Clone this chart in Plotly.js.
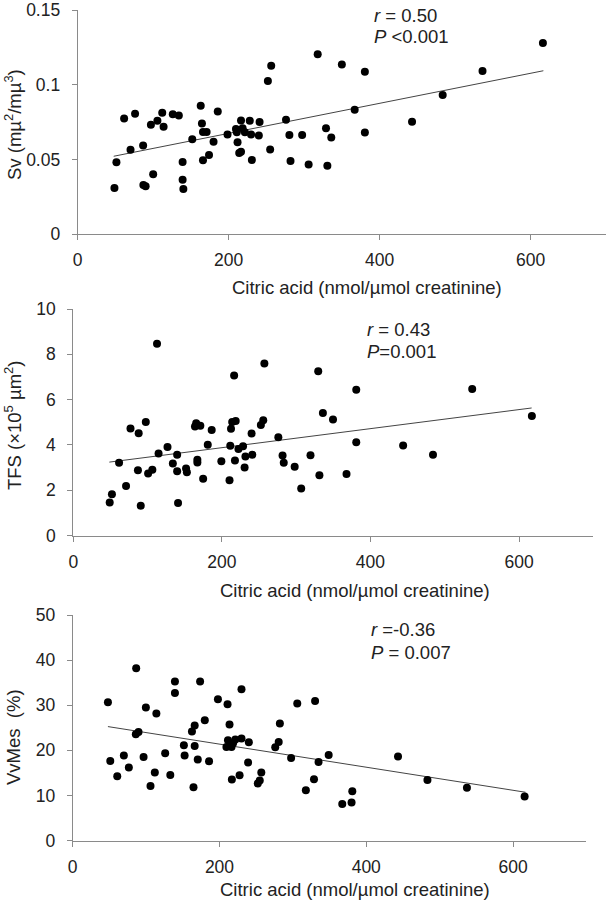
<!DOCTYPE html>
<html>
<head>
<meta charset="utf-8">
<script src="https://cdn.plot.ly/plotly-3.0.1.min.js"></script>
<style>html,body{margin:0;padding:0;background:#fff;}#chart{width:607px;height:900px;}</style>
</head>
<body>
<div id="chart"></div>
<script>
// ---- Data ----
var svX = [48.7, 51.3, 61.5, 70, 76, 86.7, 87, 90, 97, 100, 105.6, 112, 113.8, 126, 134, 139, 139, 140, 151.8, 163, 164.6, 166, 166, 170.8, 174, 180, 185.6, 198.5, 209.7, 210.8, 211.8, 214, 216.4, 216.4, 218.5, 221.5, 228, 229.7, 230.8, 240, 241, 252, 255, 256.4, 276, 280.5, 282, 297.4, 306, 318, 329, 330.8, 336, 350, 367, 380.5, 380.5, 443, 483.6, 536.4, 616.4];
var svY = [0.0309, 0.0481, 0.0774, 0.0565, 0.0805, 0.0593, 0.0329, 0.032, 0.0732, 0.0401, 0.0759, 0.0812, 0.0719, 0.0803, 0.0794, 0.0483, 0.0364, 0.0302, 0.0635, 0.086, 0.0741, 0.0684, 0.0494, 0.0684, 0.053, 0.0618, 0.0821, 0.0666, 0.0704, 0.0682, 0.0615, 0.0543, 0.0551, 0.0761, 0.0708, 0.0682, 0.0759, 0.0666, 0.0496, 0.066, 0.075, 0.1026, 0.0567, 0.1127, 0.0765, 0.0664, 0.049, 0.0664, 0.0465, 0.1204, 0.0708, 0.0457, 0.0646, 0.1136, 0.0832, 0.1088, 0.068, 0.0752, 0.0931, 0.1092, 0.128];
var svTrendX = [47.7, 617];
var svTrendY = [0.0521, 0.1094];

var tfsX = [49, 52, 61.6, 71, 77, 87, 88, 90.8, 97.6, 100.7, 106.4, 112.7, 114.8, 126.8, 134, 139.8, 139.8, 141, 151.8, 152.9, 163.8, 165.4, 167, 167, 171, 174.8, 181, 186.3, 199.3, 210.3, 211.3, 212.3, 213.9, 216.5, 217.6, 218.6, 222.3, 228.5, 230.6, 231.7, 240, 241, 252.5, 255.7, 257.2, 276, 281.7, 283.3, 298, 306.8, 319.3, 329.7, 331.3, 336, 349.6, 367.8, 380.9, 380.9, 444, 484.2, 537, 617.3];
var tfsY = [1.46, 1.82, 3.21, 2.18, 4.72, 2.88, 4.51, 1.31, 5.01, 2.74, 2.9, 8.47, 3.62, 3.91, 3.18, 3.56, 2.84, 1.44, 2.96, 2.79, 4.81, 4.96, 3.34, 3.22, 4.85, 2.51, 4.01, 4.66, 3.28, 2.44, 3.96, 4.71, 5.01, 7.06, 3.31, 5.06, 3.82, 3.94, 3.0, 3.49, 4.5, 3.56, 4.88, 5.09, 7.59, 4.34, 3.53, 3.21, 3.03, 2.07, 3.54, 7.25, 2.66, 5.41, 5.12, 2.72, 6.43, 4.12, 3.97, 3.57, 6.47, 5.28];
var tfsTrendX = [48.5, 617];
var tfsTrendY = [3.24, 5.63];

var vvX = [48, 51.2, 60.7, 69.7, 76.5, 86.5, 86, 89.7, 96.6, 99.7, 106, 111.9, 114, 126, 133, 139.3, 139.3, 151.5, 152.5, 162.5, 164.6, 166.2, 166.2, 170.4, 173.6, 180, 185.8, 197.9, 209.5, 211, 211.6, 213.7, 216.4, 216.9, 218.5, 221.6, 227.4, 230, 230, 239, 240, 252.2, 254.9, 257, 276, 280.7, 282.3, 297.6, 306, 317.7, 328.8, 330.3, 335, 348.8, 367.3, 380, 381, 443.3, 483.4, 537.2, 615.8];
var vvY = [30.65, 17.65, 14.25, 18.83, 16.17, 38.18, 23.56, 24.08, 18.54, 29.47, 12.11, 15.07, 28.14, 19.35, 14.55, 35.23, 32.72, 21.12, 18.83, 24.15, 11.82, 25.48, 20.97, 17.95, 35.23, 26.66, 17.58, 31.31, 20.75, 30.21, 22.23, 25.7, 20.75, 13.52, 21.57, 22.38, 14.48, 33.53, 22.6, 17.28, 21.79, 12.63, 13.29, 15.07, 20.68, 21.86, 25.92, 18.32, 30.35, 11.15, 13.59, 30.95, 17.43, 18.98, 8.12, 8.42, 10.93, 18.61, 13.44, 11.67, 9.75];
var vvTrendX = [48, 617];
var vvTrendY = [25.26, 10.7];

var xTickVals = [0, 200, 400, 600];
var xTickText = ["0", "200", "400", "600"];
var svTickVals = [0, 0.05, 0.1, 0.15];
var svTickText = ["0", "0.05", "0.1", "0.15"];
var tfsTickVals = [0, 2, 4, 6, 8, 10];
var tfsTickText = ["0", "2", "4", "6", "8", "10"];
var vvTickVals = [0, 10, 20, 30, 40, 50];
var vvTickText = ["0", "10", "20", "30", "40", "50"];

var xTitle = "Citric acid (nmol/µmol creatinine)";
var svTitle = "Sv (mµ<sup>2</sup>/mµ<sup>3</sup>)";
var tfsTitle = "TFS (×10<sup>5</sup> µm<sup>2</sup>)";
var vvTitle = "VvMes\u00a0\u00a0(%)";
var svStats = ["<i>r</i> = 0.50", "<i>P</i> <0.001"];
var tfsStats = ["<i>r</i> = 0.43", "<i>P</i>=0.001"];
var vvStats = ["<i>r</i> =-0.36", "<i>P</i> = 0.007"];

// ---- Styling ----
var W = 607, H = 900;
var FONT = "Liberation Sans, Arial, Helvetica, sans-serif";
var TXT = "#222222";
var AX = "#8a8a8a";
var FS = 18.5;
var TICKFS = 17.5;

function px(x) { return x / W; }
function py(y) { return 1 - y / H; }

function scatter(x, y, xa, ya) {
  return { x: x, y: y, xaxis: xa, yaxis: ya, type: "scatter", mode: "markers",
           marker: { color: "#000000", size: 8, line: { width: 0 } }, hoverinfo: "skip" };
}
function trend(x, y, xa, ya) {
  return { x: x, y: y, xaxis: xa, yaxis: ya, type: "scatter", mode: "lines",
           line: { color: "#444444", width: 1 }, hoverinfo: "skip" };
}

function xAxis(l, r, anchor) {
  return { domain: [px(l), px(r)], anchor: anchor, range: [0, 700],
           tickmode: "array", tickvals: xTickVals, ticktext: xTickText,
           ticks: "outside", ticklen: 5, tickwidth: 1, tickcolor: AX,
           showline: true, linecolor: AX, linewidth: 1,
           showgrid: false, zeroline: false, ticklabelstandoff: 5,
           ticklabeloverflow: "allow",
           tickfont: { family: FONT, size: TICKFS, color: TXT } };
}
function yAxis(top, bottom, anchor, rng, vals, text) {
  return { domain: [py(bottom), py(top)], anchor: anchor, range: rng,
           tickmode: "array", tickvals: vals, ticktext: text,
           ticks: "outside", ticklen: 5, tickwidth: 1, tickcolor: AX,
           showline: true, linecolor: AX, linewidth: 1,
           showgrid: false, zeroline: false, ticklabelstandoff: 8,
           ticklabeloverflow: "allow",
           tickfont: { family: FONT, size: TICKFS, color: TXT } };
}

function ann(text, x, y, xanchor, angle) {
  return { text: text, xref: "paper", yref: "paper", x: px(x), y: py(y),
           xanchor: xanchor, yanchor: "middle", showarrow: false,
           textangle: angle || 0, font: { family: FONT, size: FS, color: TXT } };
}

var data = [
  trend(svTrendX, svTrendY, "x", "y"),
  scatter(svX, svY, "x", "y"),
  trend(tfsTrendX, tfsTrendY, "x2", "y2"),
  scatter(tfsX, tfsY, "x2", "y2"),
  trend(vvTrendX, vvTrendY, "x3", "y3"),
  scatter(vvX, vvY, "x3", "y3")
];

var layout = {
  width: W, height: H,
  margin: { l: 0, r: 0, t: 0, b: 0, pad: 0 },
  paper_bgcolor: "#ffffff", plot_bgcolor: "#ffffff",
  showlegend: false,
  font: { family: FONT, size: FS, color: TXT },
  xaxis: xAxis(77.7, 606, "y"),
  yaxis: yAxis(10, 234, "x", [0, 0.1501], svTickVals, svTickText),
  xaxis2: xAxis(73.3, 593.3, "y2"),
  yaxis2: yAxis(309, 535.5, "x2", [0, 10], tfsTickVals, tfsTickText),
  xaxis3: xAxis(72.7, 586.4, "y3"),
  yaxis3: yAxis(615, 840.5, "x3", [0, 50], vvTickVals, vvTickText),
  annotations: [
    ann(xTitle, 367, 287, "center"),
    ann(xTitle, 355, 590, "center"),
    ann(xTitle, 355, 889, "center"),
    ann(svTitle, 13, 125, "center", -90),
    ann(tfsTitle, 13, 426, "center", -90),
    ann(vvTitle, 13, 737, "center", -90),
    ann(svStats[0], 372, 15, "left"),
    ann(svStats[1], 372, 37, "left"),
    ann(tfsStats[0], 365, 329, "left"),
    ann(tfsStats[1], 365, 351, "left"),
    ann(vvStats[0], 369, 629, "left"),
    ann(vvStats[1], 369, 652, "left")
  ]
};

Plotly.newPlot("chart", data, layout, { staticPlot: true, displayModeBar: false });
</script>
</body>
</html>
